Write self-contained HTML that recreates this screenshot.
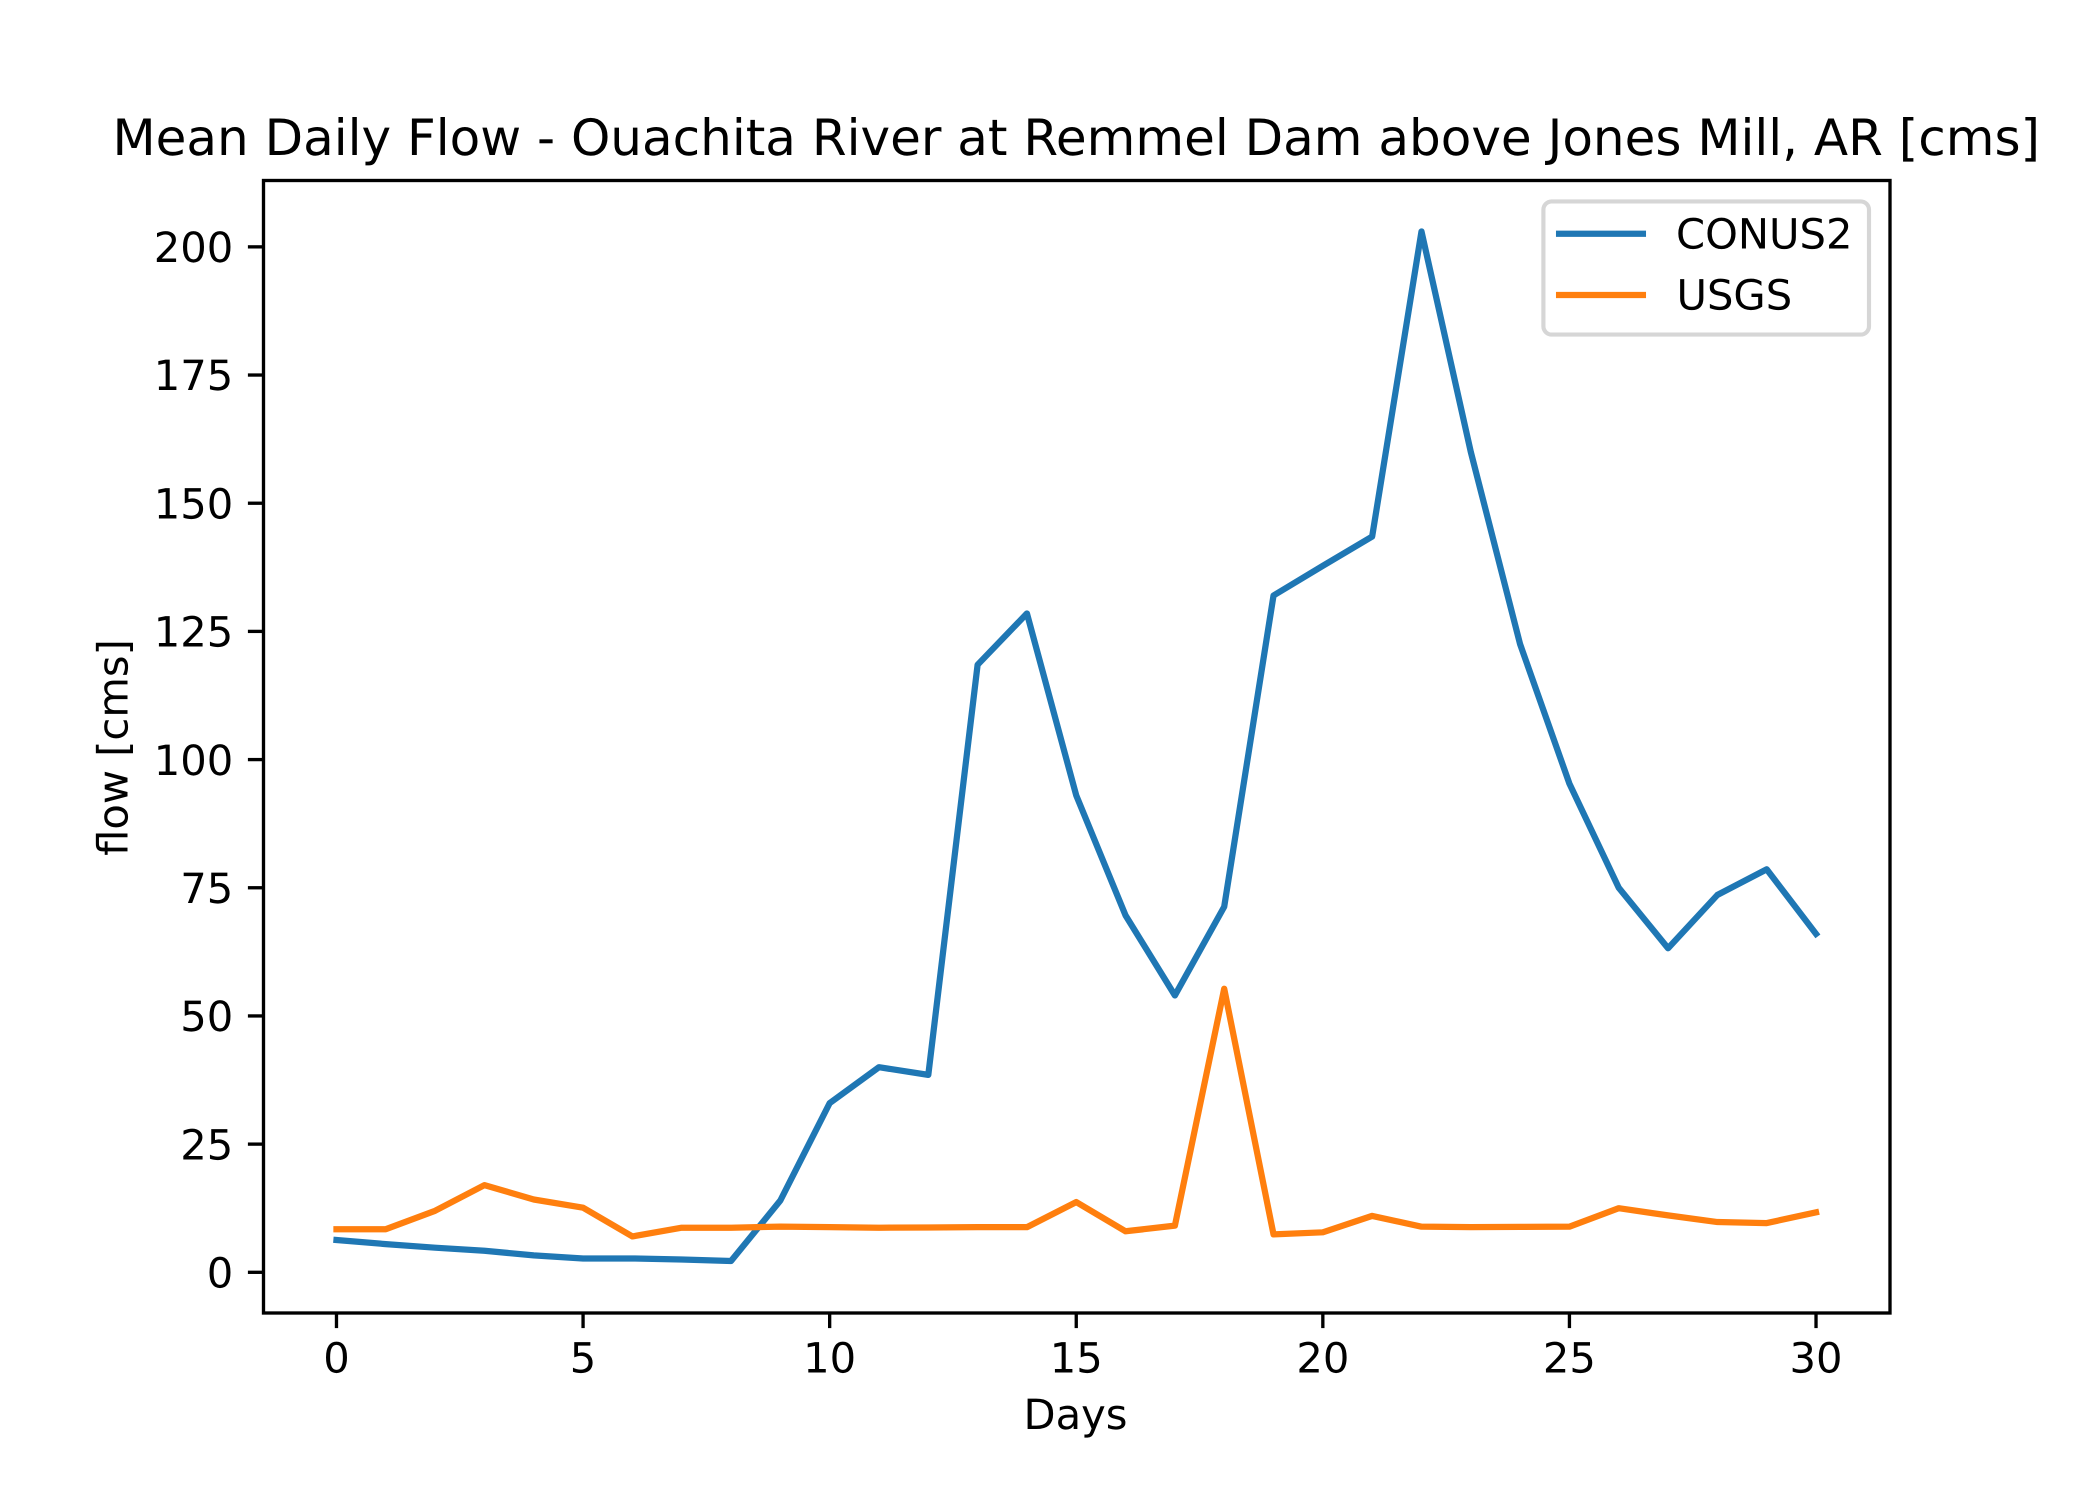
<!DOCTYPE html>
<html>
<head>
<meta charset="utf-8">
<title>Mean Daily Flow</title>
<style>
html,body{margin:0;padding:0;background:#fff;width:2100px;height:1500px;overflow:hidden}
svg{display:block}
text{font-family:"DejaVu Sans","Liberation Sans",sans-serif;fill:#000;text-rendering:geometricPrecision}
</style>
</head>
<body>
<svg id="chart" xmlns="http://www.w3.org/2000/svg" width="2100" height="1500" viewBox="0 0 2100 1500">
  <rect x="0" y="0" width="2100" height="1500" fill="#fff"/>
  <text x="1076.25" y="155" font-size="50" text-anchor="middle">Mean Daily Flow - Ouachita River at Remmel Dam above Jones Mill, AR [cms]</text>
  <text x="1075.5" y="1429" font-size="41.67" text-anchor="middle">Days</text>
  <text transform="translate(127.7 747.5) rotate(-90)" font-size="41.67" text-anchor="middle">flow [cms]</text>
  <g id="ticks"></g>
  <g id="series"></g>
  <rect x="263.5" y="180.5" width="1626.5" height="1132.5" fill="none" stroke="#000" stroke-width="3.33"/>
  <g>
    <rect x="1543.4" y="201.4" width="325.6" height="133.2" rx="8.3" ry="8.3" fill="#fff" fill-opacity="0.8" stroke="#d6d6d6" stroke-width="4.17"/>
    <line x1="1559.1" y1="233.7" x2="1642.9" y2="233.7" stroke="#1f77b4" stroke-width="6.25" stroke-linecap="square"/>
    <text x="1676" y="248.5" font-size="41.67">CONUS2</text>
    <line x1="1559.1" y1="295" x2="1642.9" y2="295" stroke="#ff7f0e" stroke-width="6.25" stroke-linecap="square"/>
    <text x="1676.5" y="309.5" font-size="41.67">USGS</text>
  </g>
</svg>
<script>
const conus2 = [6.3,5.5,4.8,4.2,3.3,2.7,2.7,2.5,2.2,14,33,40,38.5,118.5,128.5,93,69.6,54,71.3,132,137.8,143.5,203,160,122.5,95.3,75,63.2,73.6,78.6,66];
const usgs = [8.4,8.4,12,17,14.2,12.6,7,8.7,8.7,8.9,8.8,8.7,8.75,8.8,8.8,13.7,8,9.1,55.3,7.4,7.8,11,8.9,8.8,8.85,8.9,12.5,11.1,9.8,9.6,11.7];
const xTicks = [0,5,10,15,20,25,30];
const yTicks = [0,25,50,75,100,125,150,175,200];

const NS = 'http://www.w3.org/2000/svg';
const plot = {left:262.5, right:1890, top:180, bottom:1312.5};
const allValues = conus2.concat(usgs);
const dataMin = Math.min.apply(null, allValues);
const dataMax = Math.max.apply(null, allValues);
const pad = (dataMax - dataMin) * 0.05;
const yLo = dataMin - pad, yHi = dataMax + pad;
const xLo = -1.5, xHi = 31.5;
function xScale(v){ return plot.left + (v - xLo) / (xHi - xLo) * (plot.right - plot.left); }
function yScale(v){ return plot.bottom - (v - yLo) / (yHi - yLo) * (plot.bottom - plot.top); }

const ticksG = document.getElementById('ticks');
xTicks.forEach(function(t){
  const x = xScale(t);
  const l = document.createElementNS(NS,'line');
  
  
  l.setAttribute('x1', x); l.setAttribute('x2', x);
  l.setAttribute('y1', plot.bottom); l.setAttribute('y2', plot.bottom + 15.6);
  l.setAttribute('stroke', '#000'); l.setAttribute('stroke-width', '3.33');
  ticksG.appendChild(l);
  const s = document.createElementNS(NS,'text');
  
  
  s.setAttribute('x', x); s.setAttribute('y', plot.bottom + 60);
  s.setAttribute('font-size', '41.67'); s.setAttribute('text-anchor', 'middle');
  s.textContent = String(t);
  ticksG.appendChild(s);
});
yTicks.forEach(function(t){
  const y = yScale(t);
  const l = document.createElementNS(NS,'line');
  
  
  l.setAttribute('x1', plot.left - 14.6); l.setAttribute('x2', plot.left);
  l.setAttribute('y1', y); l.setAttribute('y2', y);
  l.setAttribute('stroke', '#000'); l.setAttribute('stroke-width', '3.33');
  ticksG.appendChild(l);
  const s = document.createElementNS(NS,'text');
  
  
  s.setAttribute('x', plot.left - 29.2); s.setAttribute('y', y + 15.2);
  s.setAttribute('font-size', '41.67'); s.setAttribute('text-anchor', 'end');
  s.textContent = String(t);
  ticksG.appendChild(s);
});

const seriesG = document.getElementById('series');
function drawSeries(values, color, name){
  const p = document.createElementNS(NS,'polyline');
  
  
  p.setAttribute('points', values.map(function(v,i){ return xScale(i).toFixed(2) + ',' + yScale(v).toFixed(2); }).join(' '));
  p.setAttribute('fill', 'none');
  p.setAttribute('stroke', color);
  p.setAttribute('stroke-width', '6.25');
  p.setAttribute('stroke-linejoin', 'round');
  p.setAttribute('stroke-linecap', 'square');
  seriesG.appendChild(p);
}
drawSeries(conus2, '#1f77b4', 'line-conus2');
drawSeries(usgs, '#ff7f0e', 'line-usgs');
</script>
</body>
</html>
